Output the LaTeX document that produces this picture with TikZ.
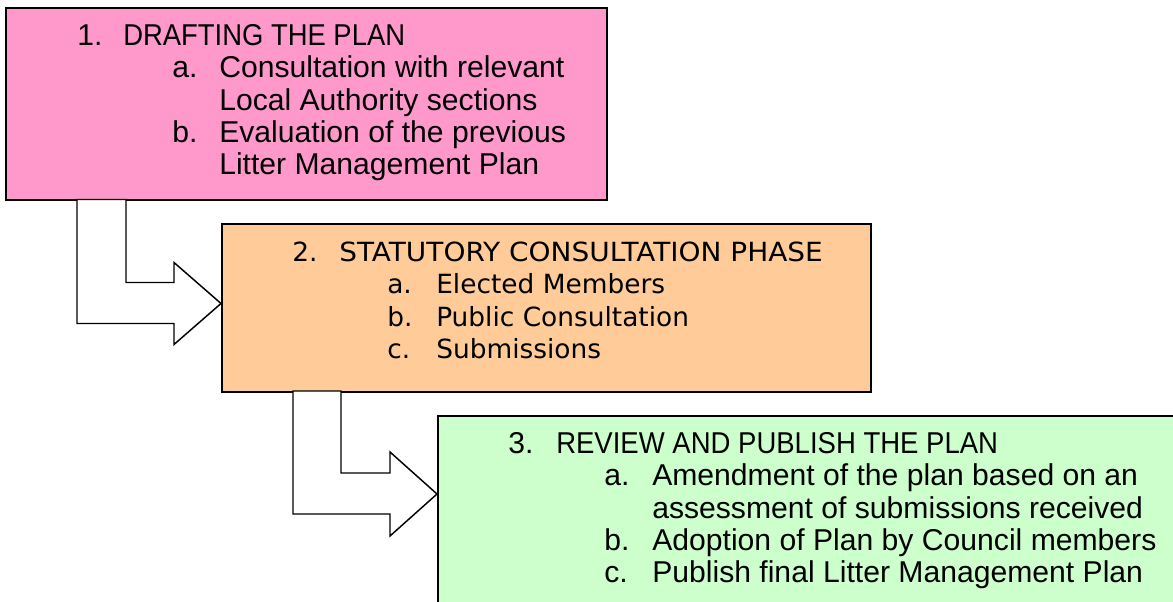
\documentclass[tikz,border=0pt]{standalone}
\usepackage{graphicx}
\usepackage{fontspec}
\setmainfont{Liberation Sans}
\newfontfamily\narrowface{Liberation Sans}
\newfontfamily\wideface{DejaVu Sans}
\usetikzlibrary{calc}
\definecolor{pinkfill}{RGB}{255,153,204}
\definecolor{orangefill}{RGB}{255,204,153}
\definecolor{greenfill}{RGB}{204,255,204}
\tikzset{
  box/.style={draw=black, line width=1.5pt, inner sep=0pt, rectangle},
  lblA/.style={anchor=base west, inner sep=0pt, font=\narrowface\fontsize{22.6pt}{24pt}\selectfont},
  lblB/.style={anchor=base west, inner sep=0pt, font=\wideface\fontsize{19.8pt}{24pt}\selectfont},
  bent/.style={draw=black, fill=white, line width=1.1pt, line join=miter}
}
\begin{document}
\begin{tikzpicture}[x=0.75pt,y=-0.75pt]
\path[use as bounding box, clip] (0,0) rectangle (1173,602);
% boxes
\node[box, fill=pinkfill, minimum width=450.75pt, minimum height=144pt] (b1) at (306.5,104) {};
\node[box, fill=orangefill, minimum width=486.75pt, minimum height=126pt] (b2) at (546.5,308) {};
\node[box, fill=greenfill, minimum width=564pt, minimum height=168pt] (b3) at (814,528) {};
% bent arrows
\coordinate (tip1) at ([shift={(0,-4.5)}]b2.west);
\draw[bent] (tip1) -- ++(-47,-41) -- ++(0,20) -- ++(-48,0) -- ++(0,-83) -- ++(-49,0) -- ++(0,124) -- ++(97,0) -- ++(0,21) -- cycle;
\coordinate (tip2) at ([shift={(0,79)}]b3.north west);
\draw[bent] (tip2) -- ++(-47,-42) -- ++(0,21) -- ++(-49,0) -- ++(0,-82) -- ++(-48,0) -- ++(0,123) -- ++(97,0) -- ++(0,22) -- cycle;
% box 1 text
\node[lblA] (n1) at (77,46) {1.};
\node[lblA] (t1) at (123,46) {\scalebox{0.91}[1]{DRAFTING THE PLAN}};
\node[lblA] (n1a) at (172,78) {a.};
\node[lblA] (t1a) at (219,78) {Consultation with relevant};
\node[lblA] (t1a2) at (219,111) {Local Authority sections};
\node[lblA] (n1b) at (172,143) {b.};
\node[lblA] (t1b) at (219,143) {Evaluation of the previous};
\node[lblA] (t1b2) at (219,175) {Litter Management Plan};
% box 2 text
\node[lblB] (n2) at (292,262) {2.};
\node[lblB] (t2) at (339,262) {\scalebox{1.059}[1]{STATUTORY CONSULTATION PHASE}};
\node[lblB] (n2a) at (387,293.5) {a.};
\node[lblB] (t2a) at (436,293.5) {Elected Members};
\node[lblB] (n2b) at (387,326) {b.};
\node[lblB] (t2b) at (436,326) {Public Consultation};
\node[lblB] (n2c) at (387,358) {c.};
\node[lblB] (t2c) at (436,358) {Submissions};
% box 3 text
\node[lblA] (n3) at (508,453) {3.};
\node[lblA] (t3) at (556,453) {\scalebox{0.913}[1]{REVIEW AND PUBLISH THE PLAN}};
\node[lblA] (n3a) at (604,485) {a.};
\node[lblA] (t3a) at (652,485) {Amendment of the plan based on an};
\node[lblA] (t3a2) at (652,518) {assessment of submissions received};
\node[lblA] (n3b) at (604,550) {b.};
\node[lblA] (t3b) at (652,550) {Adoption of Plan by Council members};
\node[lblA] (n3c) at (604,582) {c.};
\node[lblA] (t3c) at (652,582) {Publish final Litter Management Plan};
\end{tikzpicture}
\end{document}
